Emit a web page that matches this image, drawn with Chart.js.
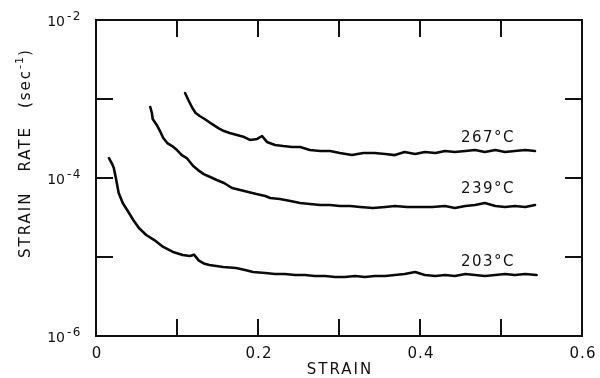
<!DOCTYPE html>
<html>
<head>
<meta charset="utf-8">
<style>
html,body{margin:0;padding:0;background:#fff;}
#wrap{width:600px;height:378px;}
</style>
<script src="https://cdn.jsdelivr.net/npm/chart.js@4/dist/chart.umd.min.js"></script>
</head>
<body>
<div id="wrap"><canvas id="c" width="600" height="378"></canvas></div>
<script>
// ---- data ----
const seriesNames = ['267°C', '239°C', '203°C'];

const strain267 = [0.110,0.114,0.119,0.123,0.128,0.136,0.143,0.151,0.158,0.165,0.174,0.183,0.190,0.199,0.205,0.211,0.221,0.231,0.242,0.252,0.264,0.277,0.289,0.301,0.316,0.330,0.344,0.357,0.369,0.381,0.394,0.406,0.419,0.431,0.443,0.456,0.468,0.480,0.493,0.505,0.517,0.530,0.542];
const rate267 = [1.19e-3,9.71e-4,7.69e-4,6.65e-4,6.09e-4,5.42e-4,4.83e-4,4.29e-4,3.93e-4,3.71e-4,3.50e-4,3.30e-4,3.03e-4,3.12e-4,3.40e-4,2.86e-4,2.62e-4,2.54e-4,2.47e-4,2.47e-4,2.26e-4,2.20e-4,2.20e-4,2.07e-4,1.95e-4,2.07e-4,2.07e-4,2.01e-4,1.95e-4,2.13e-4,2.01e-4,2.13e-4,2.07e-4,2.20e-4,2.13e-4,2.20e-4,2.26e-4,2.13e-4,2.26e-4,2.13e-4,2.20e-4,2.26e-4,2.20e-4];

const strain239 = [0.067,0.069,0.070,0.075,0.079,0.083,0.088,0.094,0.100,0.106,0.112,0.120,0.126,0.133,0.141,0.149,0.158,0.168,0.178,0.188,0.198,0.209,0.215,0.227,0.240,0.252,0.264,0.277,0.289,0.301,0.314,0.326,0.342,0.357,0.369,0.384,0.400,0.415,0.431,0.443,0.456,0.468,0.480,0.493,0.505,0.517,0.530,0.542];
const rate239 = [7.92e-4,6.65e-4,5.58e-4,4.69e-4,3.93e-4,3.21e-4,2.77e-4,2.54e-4,2.26e-4,1.95e-4,1.79e-4,1.42e-4,1.26e-4,1.12e-4,1.03e-4,9.43e-5,8.64e-5,7.47e-5,7.05e-5,6.65e-5,6.27e-5,5.92e-5,5.58e-5,5.42e-5,5.11e-5,4.83e-5,4.69e-5,4.55e-5,4.55e-5,4.42e-5,4.42e-5,4.30e-5,4.17e-5,4.30e-5,4.42e-5,4.30e-5,4.30e-5,4.30e-5,4.42e-5,4.17e-5,4.42e-5,4.55e-5,4.83e-5,4.42e-5,4.30e-5,4.42e-5,4.30e-5,4.55e-5];

const strain203 = [0.016,0.020,0.022,0.025,0.028,0.033,0.040,0.046,0.053,0.062,0.072,0.083,0.095,0.107,0.116,0.121,0.127,0.133,0.140,0.157,0.173,0.184,0.194,0.209,0.221,0.233,0.246,0.258,0.270,0.283,0.295,0.307,0.320,0.332,0.344,0.357,0.369,0.381,0.394,0.406,0.419,0.431,0.443,0.456,0.468,0.480,0.493,0.505,0.517,0.530,0.544];
const rate203 = [1.79e-4,1.50e-4,1.34e-4,9.43e-5,6.46e-5,4.83e-5,3.71e-5,2.94e-5,2.33e-5,1.90e-5,1.64e-5,1.34e-5,1.16e-5,1.06e-5,1.03e-5,1.07e-5,9.0e-6,8.3e-6,7.92e-6,7.47e-6,7.26e-6,6.85e-6,6.46e-6,6.27e-6,6.09e-6,6.09e-6,5.92e-6,5.92e-6,5.75e-6,5.75e-6,5.58e-6,5.58e-6,5.75e-6,5.58e-6,5.75e-6,5.75e-6,5.92e-6,6.09e-6,6.46e-6,5.92e-6,5.75e-6,5.92e-6,5.75e-6,6.09e-6,5.92e-6,5.75e-6,5.92e-6,6.09e-6,5.92e-6,6.09e-6,5.92e-6];

const xTickValues = [0.1,0.2,0.3,0.4,0.5];
const xTickLabels = ['0','0.2','0.4','0.6'];
const xLabelValues = [0,0.2,0.4,0.6];
const yTickValues = [1e-3,1e-4,1e-5];
const yLabelValues = [1e-2,1e-4,1e-6];
const yLabelExps = ['-2','-4','-6'];

const toPts = (xs, ys) => xs.map((x, i) => ({x: x, y: ys[i]}));

const INK = '#111111';
const FONT = '"DejaVu Sans", sans-serif';

const decor = {
  id: 'decor',
  afterDraw(chart) {
    const ctx = chart.ctx;
    const a = chart.chartArea;
    const xs = chart.scales.x, ys = chart.scales.y;
    ctx.save();
    ctx.setLineDash([]);
    ctx.globalAlpha = 1;
    ctx.fillStyle = INK;
    const L = Math.round(a.left), R = Math.round(a.right), T = Math.round(a.top), B = Math.round(a.bottom);
    // frame (filled rects)
    const W = 2;
    ctx.fillRect(L - 1, T - 1, R - L + 2, W);
    ctx.fillRect(L - 1, B - 1, R - L + 2, W);
    ctx.fillRect(L - 1, T - 1, W, B - T + 2);
    ctx.fillRect(R - 1, T - 1, W, B - T + 2);
    // inward ticks
    const TL = 17;
    xTickValues.forEach(v => {
      const px = Math.round(xs.getPixelForValue(v));
      ctx.fillRect(px - 1, B - TL, 2, TL);
      ctx.fillRect(px - 1, T, 2, TL);
    });
    yTickValues.forEach(v => {
      const py = Math.round(ys.getPixelForValue(v));
      ctx.fillRect(L, py - 1, TL, 2);
      ctx.fillRect(R - TL, py - 1, TL, 2);
    });

    // x tick labels
    ctx.font = '15px ' + FONT;
    ctx.letterSpacing = '1px';
    ctx.textAlign = 'center';
    ctx.textBaseline = 'middle';
    xLabelValues.forEach((v, i) => {
      ctx.fillText(xTickLabels[i], xs.getPixelForValue(v) + 1, B + 18);
    });
    // x title
    ctx.font = '15px ' + FONT;
    ctx.letterSpacing = '2px';
    ctx.fillText('STRAIN', (L + R) / 2 + 1, B + 34);

    // y tick labels 10^-n
    yLabelValues.forEach((v, i) => {
      const py = ys.getPixelForValue(v);
      ctx.font = '14px ' + FONT;
      ctx.letterSpacing = '0px';
      ctx.textAlign = 'right';
      ctx.textBaseline = 'middle';
      ctx.fillText('10', L - 31, py + 2);
      ctx.font = '12px ' + FONT;
      ctx.letterSpacing = '1.5px';
      ctx.textAlign = 'left';
      ctx.fillText(yLabelExps[i], L - 29, py - 3);
    });

    // y title (rotated)
    ctx.save();
    ctx.translate(26, 0);
    ctx.rotate(-Math.PI / 2);
    ctx.textAlign = 'left';
    ctx.textBaseline = 'middle';
    ctx.font = '15px ' + FONT;
    ctx.letterSpacing = '2px';
    const parts = [['STRAIN', 0], ['RATE', 20], ['(sec', 18]];
    let pos = -258;
    parts.forEach(([t, gap]) => {
      pos += gap;
      ctx.fillText(t, pos, 0);
      pos += ctx.measureText(t).width;
    });
    ctx.font = '11px ' + FONT;
    ctx.letterSpacing = '1px';
    ctx.fillText('-1', pos, -6);
    pos += ctx.measureText('-1').width;
    ctx.font = '15px ' + FONT;
    ctx.letterSpacing = '2px';
    ctx.fillText(')', pos, 0);
    ctx.restore();

    // curve labels
    ctx.font = '15px ' + FONT;
    ctx.letterSpacing = '1.5px';
    ctx.textAlign = 'center';
    ctx.textBaseline = 'middle';
    chart.data.datasets.forEach((ds, i) => {
      const meta = chart.getDatasetMeta(i);
      const target = 0.48;
      let best = 0, bd = 1e9;
      ds.data.forEach((p, j) => { const d = Math.abs(p.x - target); if (d < bd) { bd = d; best = j; } });
      const pt = meta.data[best];
      ctx.fillText(ds.label, xs.getPixelForValue(0.484), pt.y - 14);
    });
    ctx.restore();
  }
};

const lineStyle = {
  borderColor: '#0a0a0a',
  borderWidth: 2.6,
  pointRadius: 0,
  tension: 0,
  fill: false,
  borderJoinStyle: 'round',
  borderCapStyle: 'round'
};

new Chart(document.getElementById('c'), {
  type: 'line',
  data: {
    datasets: [
      Object.assign({label: seriesNames[0], data: toPts(strain267, rate267)}, lineStyle),
      Object.assign({label: seriesNames[1], data: toPts(strain239, rate239)}, lineStyle),
      Object.assign({label: seriesNames[2], data: toPts(strain203, rate203)}, lineStyle)
    ]
  },
  options: {
    responsive: false,
    devicePixelRatio: 1,
    animation: false,
    layout: {padding: {left: 96, right: 18, top: 20, bottom: 42}},
    plugins: {legend: {display: false}, tooltip: {enabled: false}},
    scales: {
      x: {type: 'linear', min: 0, max: 0.6, display: false},
      y: {type: 'logarithmic', min: 1e-6, max: 1e-2, display: false}
    }
  },
  plugins: [decor]
});
</script>
</body>
</html>
